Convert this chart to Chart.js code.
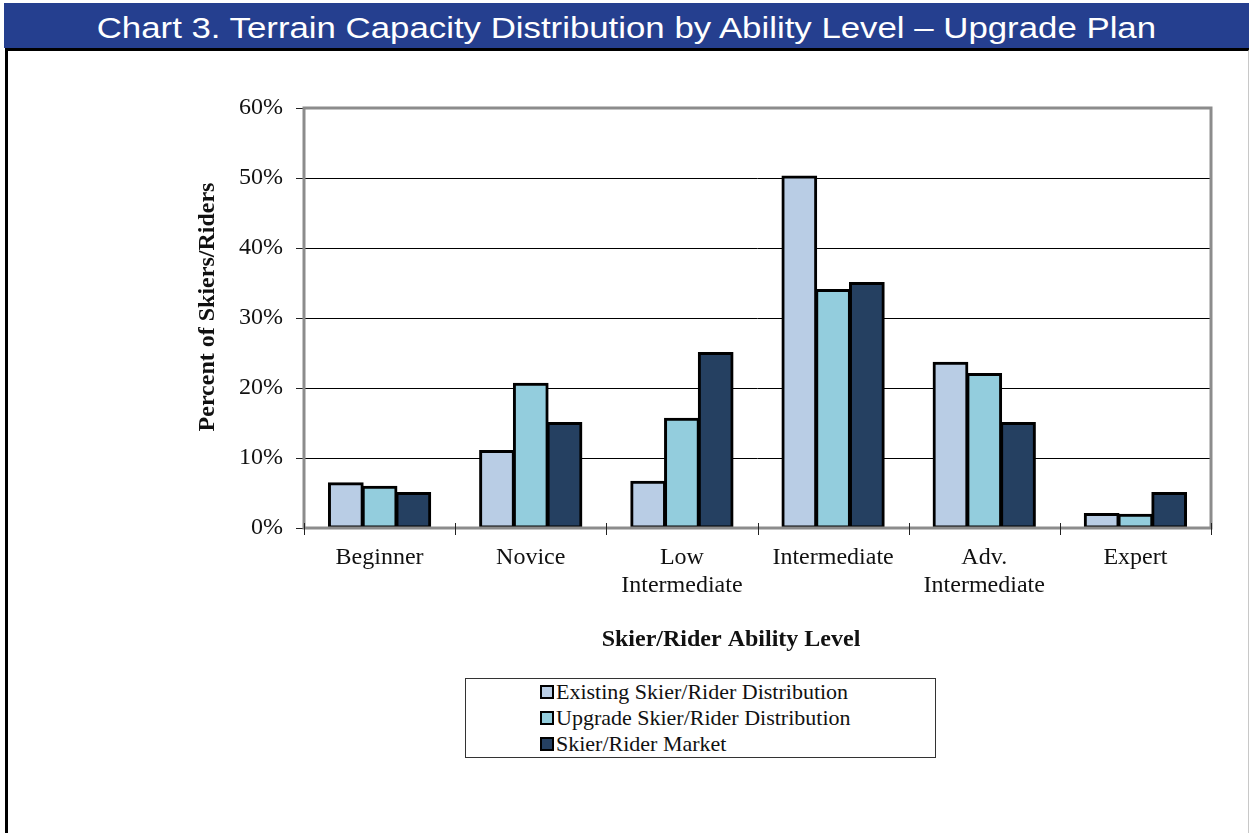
<!DOCTYPE html>
<html>
<head>
<meta charset="utf-8">
<script src="https://cdn.jsdelivr.net/npm/chart.js@4.4.1/dist/chart.umd.min.js"></script>
<style>
  body { margin: 0; background: #ffffff; width: 1249px; height: 833px; overflow: hidden; position: relative; }
  #header {
    position: absolute; left: 4px; top: 3px; width: 1245px; height: 45px;
    background: #253f8f; color: #fff; text-align: center;
    font-family: "Liberation Sans", Arial, sans-serif; font-size: 29px; line-height: 50px;
  }
  #header span { display: inline-block; transform: scaleX(1.2); transform-origin: center; }
  #frame {
    position: absolute; left: 5px; top: 48px; width: 1240px; height: 790px;
    border-left: 3px solid #000; border-top: 3px solid #000; border-right: 2px solid #c8c8c8;
  }
  #wrap { position: absolute; left: 0; top: 0; width: 1249px; height: 833px; }
  #legend {
    position: absolute; left: 465px; top: 678px; width: 469px; height: 78px;
    border: 1px solid #333; background: #fff;
    font-family: "Liberation Serif", "Times New Roman", serif; font-size: 22px; color: #111;
  }
  #legend .item { position: absolute; left: 74px; height: 26px; line-height: 26px; white-space: nowrap; }
  #legend .box { display: inline-block; width: 10px; height: 10px; border: 2px solid #000; vertical-align: 0px; margin-right: 2px; }
</style>
</head>
<body>
<div id="header"><span>Chart 3. Terrain Capacity Distribution by Ability Level – Upgrade Plan</span></div>
<div id="frame"></div>
<div id="wrap"><canvas id="chart" width="1249" height="833"></canvas></div>
<div id="legend"></div>
<script>
var categories = ["Beginner", ["Novice"], ["Low", "Intermediate"], "Intermediate", ["Adv.", "Intermediate"], "Expert"];
var existingDist = [6.4, 11.0, 6.6, 50.2, 23.6, 2.0];
var upgradeDist = [5.9, 20.6, 15.6, 34.0, 22.0, 1.9];
var marketDist = [5.0, 15.0, 25.0, 35.0, 15.0, 5.0];
var seriesNames = ["Existing Skier/Rider Distribution", "Upgrade Skier/Rider Distribution", "Skier/Rider Market"];
var seriesColors = ["#b9cde5", "#93cddd", "#254061"];
var yTicks = [0, 10, 20, 30, 40, 50, 60];
var xTitle = 'Skier/Rider Ability Level';
var yTitle = 'Percent of Skiers/Riders';

var serif = "'Liberation Serif', 'Times New Roman', serif";

// gray frame around the plot area, crossing x ticks, axis titles
var plotExtras = {
  id: 'plotExtras',
  afterDraw: function (chart) {
    var a = chart.chartArea, c = chart.ctx;
    c.save();
    c.strokeStyle = '#8c8c8c';
    c.lineWidth = 3;
    c.strokeRect(a.left, a.top, a.right - a.left, a.bottom - a.top);
    c.strokeStyle = '#222';
    c.lineWidth = 1;
    for (var i = 0; i <= categories.length; i++) {
      var px = Math.round(a.left + (a.right - a.left) * i / categories.length) + 0.5;
      c.beginPath();
      c.moveTo(px, a.bottom - 5);
      c.lineTo(px, a.bottom + 7);
      c.stroke();
    }
    c.fillStyle = '#111';
    c.font = "bold 24px " + serif;
    c.textAlign = 'center';
    c.textBaseline = 'middle';
    c.fillText(xTitle, 731, 640);
    c.translate(208, 307);
    c.rotate(-Math.PI / 2);
    c.fillText(yTitle, 0, 0);
    c.restore();
  }
};

var ds = [existingDist, upgradeDist, marketDist].map(function (vals, i) {
  return {
    label: seriesNames[i],
    data: vals,
    backgroundColor: seriesColors[i],
    borderColor: '#000',
    borderWidth: 3,
    borderSkipped: false,
    inflateAmount: 1,
    categoryPercentage: 0.67,
    barPercentage: 1.0
  };
});

var ctx = document.getElementById("chart").getContext('2d');
var myChart = new Chart(ctx, {
  type: 'bar',
  data: { labels: categories, datasets: ds },
  options: {
    responsive: false,
    animation: false,
    layout: { padding: { top: 108, right: 38, bottom: 0, left: 0 } },
    plugins: {
      legend: { display: false },
      tooltip: { enabled: false }
    },
    scales: {
      x: {
        grid: { display: false, drawOnChartArea: false },
        border: { display: false },
        ticks: { color: '#111', font: { family: serif, size: 24, lineHeight: 1.17 }, padding: 8, maxRotation: 0, autoSkip: false },
        afterFit: function (s) { s.height = 305; }
      },
      y: {
        min: 0, max: 60,
        afterBuildTicks: function (s) { s.ticks = yTicks.map(function (v) { return { value: v }; }); },
        grid: { color: '#000', lineWidth: 1, tickLength: 8, tickColor: '#222' },
        border: { display: false },
        ticks: { color: '#111', font: { family: serif, size: 24 }, padding: 13, callback: function (v) { return v + '%'; } },
        afterFit: function (s) { s.width = 304; }
      }
    }
  },
  plugins: [plotExtras]
});

// legend box built from the series arrays
var leg = document.getElementById('legend');
seriesNames.forEach(function (n, i) {
  var d = document.createElement('div');
  d.className = 'item';
  d.style.top = (i * 26) + 'px';
  d.innerHTML = '<span class="box" style="background:' + seriesColors[i] + '"></span>' + n;
  leg.appendChild(d);
});
</script>
</body>
</html>
